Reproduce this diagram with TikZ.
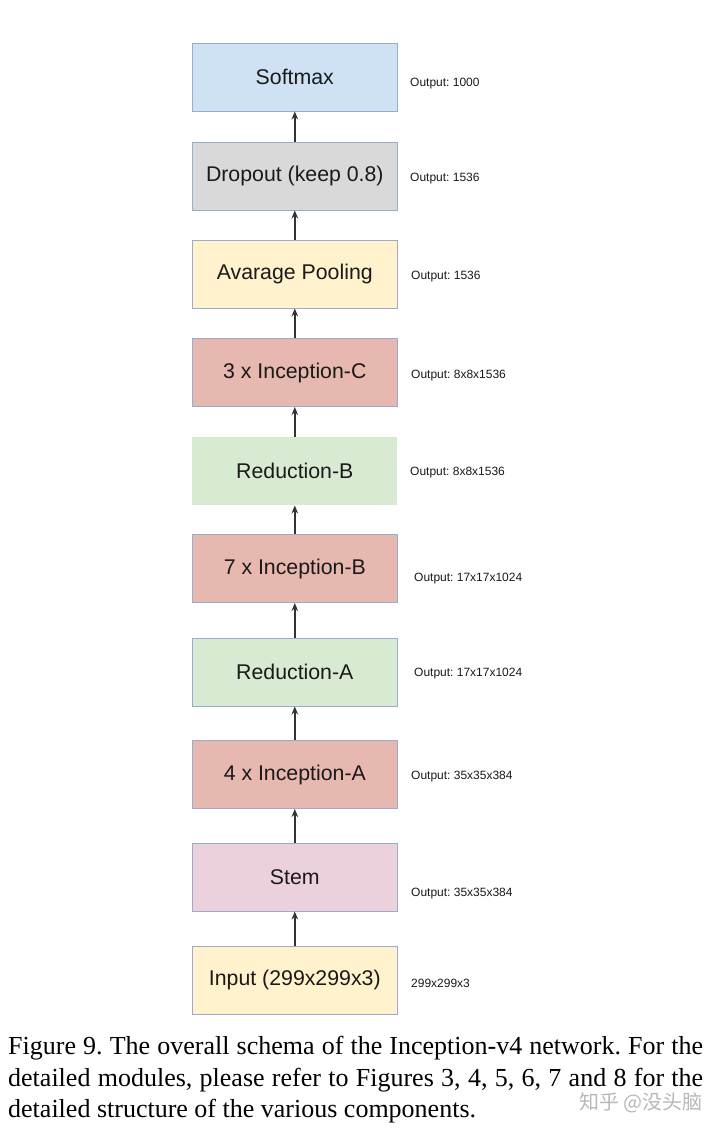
\documentclass[tikz,border=0pt]{standalone}
\usepackage{fontspec}
\setmainfont{Liberation Serif}
\newfontfamily\arialf{Liberation Sans}
\newfontfamily\cjkf{Noto Sans CJK SC}
\usetikzlibrary{arrows.meta}
\frenchspacing
\definecolor{cblue}{HTML}{CFE2F3}
\definecolor{cgray}{HTML}{D9D9D9}
\definecolor{cyellow}{HTML}{FFF2CC}
\definecolor{cred}{HTML}{E6B8AF}
\definecolor{cgreen}{HTML}{D9EAD3}
\definecolor{cpurple}{HTML}{EAD1DC}
\definecolor{cborder}{HTML}{9AABCF}
\definecolor{ctext}{HTML}{1A1A1A}
\definecolor{carrow}{HTML}{333333}
\tikzset{
  box/.style={draw=cborder, line width=0.9pt, minimum width=205pt, minimum height=68pt,
    inner sep=0pt, text=ctext, font=\arialf\fontsize{21.3}{24}\selectfont},
  nobox/.style={box, draw=none},
  lab/.style={anchor=west, inner sep=0pt, text=ctext, font=\arialf\fontsize{12}{14}\selectfont},
  flow/.style={draw=carrow, line width=1.8pt, -{Stealth[length=8pt,width=6.5pt]}},
}
\begin{document}
\frenchspacing
\begin{tikzpicture}[x=1pt,y=-1pt]
\useasboundingbox[fill=white] (0,0) rectangle (720,1133);
\node[box, fill=cblue]   (soft) at (294.8,77)  {Softmax};
\node[box, fill=cgray]   (drop) at (294.8,176) {Dropout (keep 0.8)};
\node[box, fill=cyellow] (pool) at (294.8,274) {Avarage Pooling};
\node[box, fill=cred]    (incc) at (294.8,372.5) {3 x Inception-C};
\node[nobox, fill=cgreen] (redb) at (294.8,471) {Reduction-B};
\node[box, fill=cred]    (incb) at (294.8,568.5) {7 x Inception-B};
\node[box, fill=cgreen]  (reda) at (294.8,672) {Reduction-A};
\node[box, fill=cred]    (inca) at (294.8,774.5) {4 x Inception-A};
\node[box, fill=cpurple] (stem) at (294.8,877) {Stem};
\node[box, fill=cyellow] (inp)  at (294.8,980) {Input (299x299x3)};

\draw[flow] (drop) -- (soft);
\draw[flow] (pool) -- (drop);
\draw[flow] (incc) -- (pool);
\draw[flow] (redb) -- (incc);
\draw[flow] (incb) -- (redb);
\draw[flow] (reda) -- (incb);
\draw[flow] (inca) -- (reda);
\draw[flow] (stem) -- (inca);
\draw[flow] (inp) -- (stem);

\node[lab] (l1) at (410,84)  {Output: 1000};
\node[lab] (l2) at (410,179) {Output: 1536};
\node[lab] (l3) at (411,277) {Output: 1536};
\node[lab] (l4) at (411,376) {Output: 8x8x1536};
\node[lab] (l5) at (410,473) {Output: 8x8x1536};
\node[lab] (l6) at (414,579) {Output: 17x17x1024};
\node[lab] (l7) at (414,674) {Output: 17x17x1024};
\node[lab] (l8) at (411,777) {Output: 35x35x384};
\node[lab] (l9) at (411,894) {Output: 35x35x384};
\node[lab] (l10) at (411,983) {299x299x3};

\node[anchor=north west, inner sep=0pt, text width=695pt, align=justify,
  font=\fontsize{26}{31.5}\selectfont, text=black] (cap) at (8,1036)
  {Figure 9. The overall schema of the Inception-v4 network. For the\linebreak
   detailed modules, please refer to Figures 3, 4, 5, 6, 7 and 8 for the\linebreak
   detailed structure of the various components.\par};
\node[anchor=east, inner sep=0pt, text=black!28, font=\cjkf\fontsize{20}{22}\selectfont] (wm) at (703,1103) {知乎 @没头脑};
\end{tikzpicture}
\end{document}
